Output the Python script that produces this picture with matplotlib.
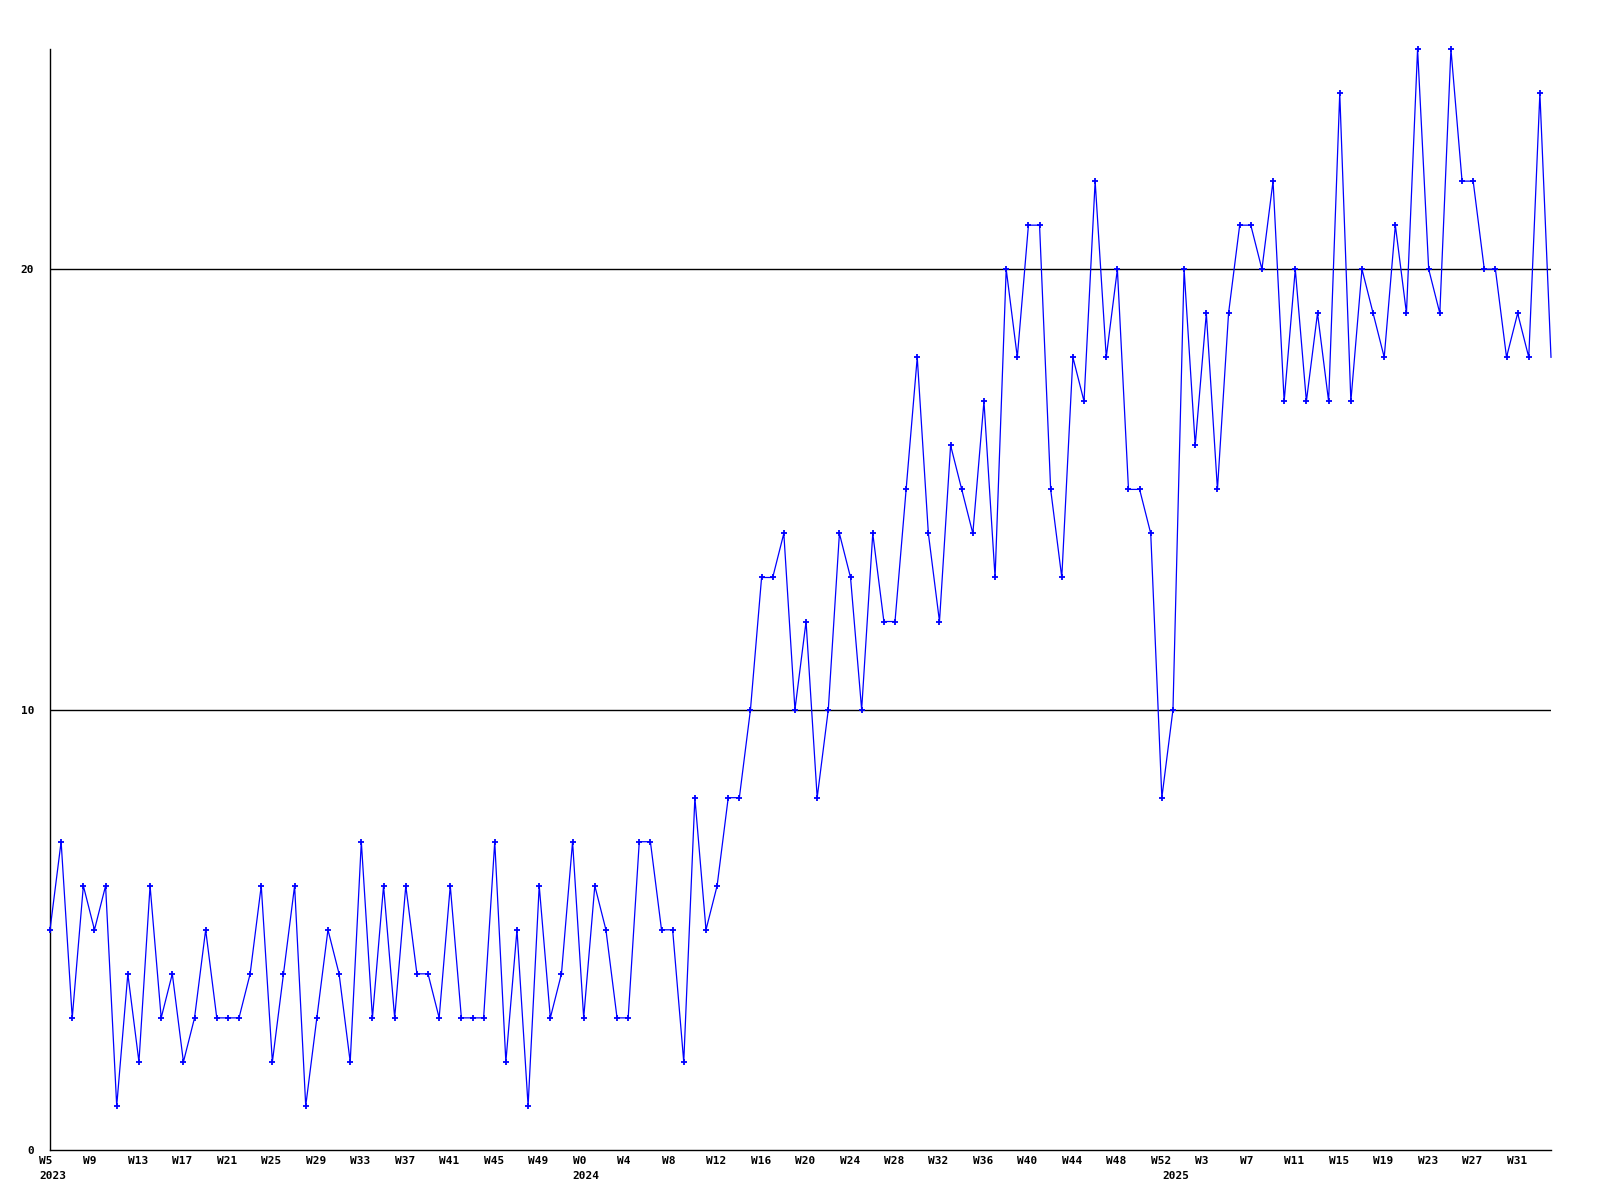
"""
Weekly count line chart, W5 2023 .. W34 2025
Run: python plot.py  ->  out.png
"""

import matplotlib
matplotlib.use("Agg")
import matplotlib.pyplot as plt
import matplotlib.transforms as mtransforms

# ─────────────────────────────────────────────
# DATA
# ─────────────────────────────────────────────
weeks_2023 = list(range(5, 53))    # W5 .. W52
weeks_2024 = list(range(0, 53))    # W0 .. W52
weeks_2025 = list(range(0, 35))    # W0 .. W34

values_2023 = [5, 7, 3, 6, 5, 6, 1, 4, 2, 6, 3, 4, 2, 3, 5, 3, 3, 3, 4, 6,
               2, 4, 6, 1, 3, 5, 4, 2, 7, 3, 6, 3, 6, 4, 4, 3, 6, 3, 3, 3,
               7, 2, 5, 1, 6, 3, 4, 7]
values_2024 = [3, 6, 5, 3, 3, 7, 7, 5, 5, 2, 8, 5, 6, 8, 8, 10, 13, 13, 14, 10,
               12, 8, 10, 14, 13, 10, 14, 12, 12, 15, 18, 14, 12, 16, 15, 14, 17, 13, 20, 18,
               21, 21, 15, 13, 18, 17, 22, 18, 20, 15, 15, 14, 8]
values_2025 = [10, 20, 16, 19, 15, 19, 21, 21, 20, 22, 17, 20, 17, 19, 17, 24, 17, 20, 19, 18,
               21, 19, 25, 20, 19, 25, 22, 22, 20, 20, 18, 19, 18, 24, 18]

years = ["2023", "2024", "2025"]
y_ticks = [0, 10, 20]

# ─────────────────────────────────────────────
# BUILD SERIES
# ─────────────────────────────────────────────
week_labels = ([f"W{w}" for w in weeks_2023] +
               [f"W{w}" for w in weeks_2024] +
               [f"W{w}" for w in weeks_2025])
values = values_2023 + values_2024 + values_2025
x = list(range(len(values)))
year_start = [0, len(weeks_2023), len(weeks_2023) + len(weeks_2024)]

FONT = dict(family="DejaVu Sans Mono", fontweight="bold", fontsize=8)

fig = plt.figure(figsize=(16, 12), dpi=100)
ax = fig.add_axes([50 / 1600, 1 - 1150 / 1200, 1501 / 1600, 1101 / 1200])

# grid lines at 10, 20
for yv in y_ticks[1:]:
    ax.axhline(yv, color="black", lw=1.0, zorder=1)

# last point drawn without a marker (clipped at the edge in the original)
ax.plot(x, values, color="#0000ff", lw=0.9, marker="+", ms=4, mew=1.3,
        markevery=x[:-1], zorder=3, clip_on=False)

ax.set_xlim(0, len(values) - 1)
ax.set_ylim(0, 25)

for s in ["top", "right"]:
    ax.spines[s].set_visible(False)
for s in ["left", "bottom"]:
    ax.spines[s].set_color("black")
    ax.spines[s].set_linewidth(1.0)

# y tick labels
ax.set_yticks(y_ticks)
ax.set_yticklabels([str(v) for v in y_ticks], **FONT)
ax.tick_params(axis="y", length=0, pad=11.5)

# x tick labels every 4 weeks, left aligned slightly before the tick
tick_idx = x[::4]
ax.set_xticks(tick_idx)
ax.set_xticklabels([week_labels[i] for i in tick_idx], **FONT)
ax.tick_params(axis="x", length=0, pad=4)
off = mtransforms.ScaledTranslation(-11 / 100, 0, fig.dpi_scale_trans)
for lbl in ax.get_xticklabels():
    lbl.set_horizontalalignment("left")
    lbl.set_transform(lbl.get_transform() + off)

# year labels under first week of each year
trans = mtransforms.blended_transform_factory(ax.transData, ax.transAxes)
for yr, i in zip(years, year_start):
    ax.text(i, 0, yr, transform=trans + mtransforms.ScaledTranslation(-11 / 100, -21 / 100, fig.dpi_scale_trans),
            ha="left", va="top", **FONT)

plt.savefig("out.png", dpi=100, facecolor="white")
plt.close()
